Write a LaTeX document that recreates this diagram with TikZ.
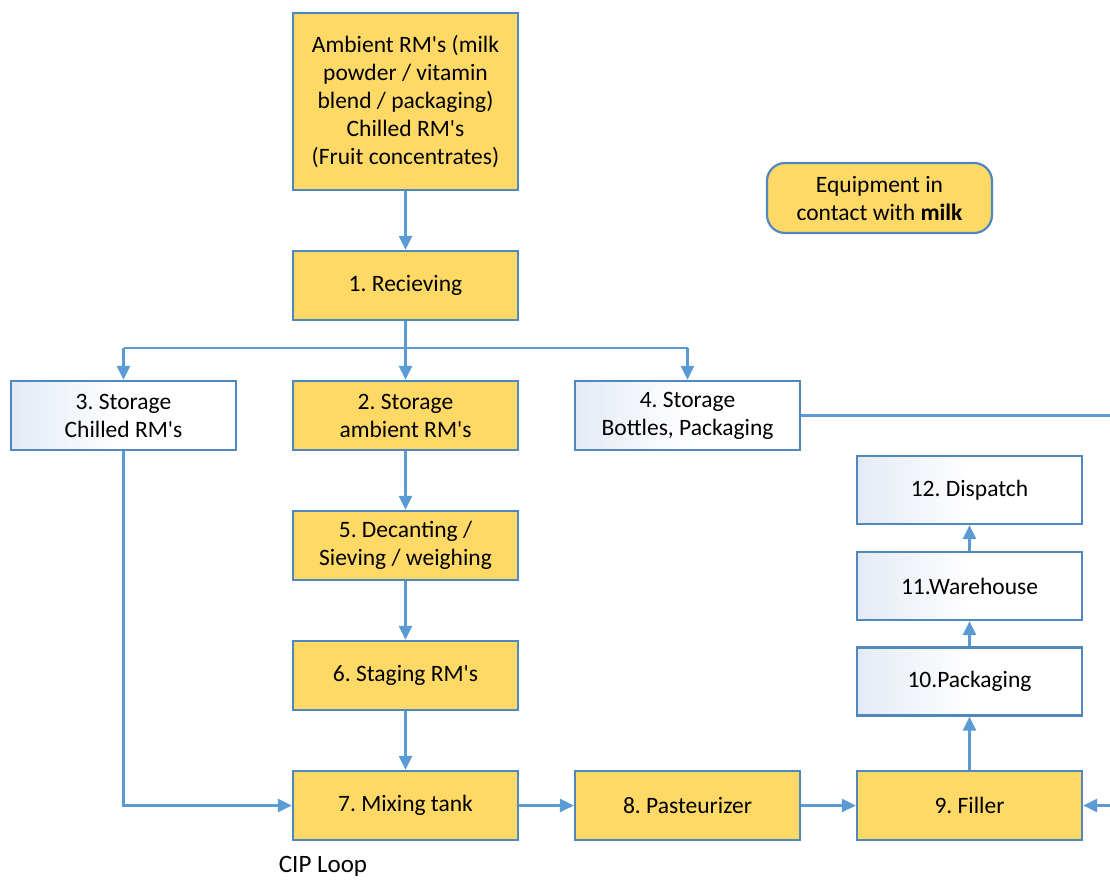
\documentclass[tikz,border=0pt]{standalone}
\usepackage{fontspec}
\setmainfont{Carlito}[Ligatures=TeXOff]
\usetikzlibrary{arrows.meta}
\frenchspacing
\definecolor{flowblue}{RGB}{91,155,213}
\definecolor{edgeblue}{RGB}{80,135,190}
\definecolor{boxyellow}{RGB}{255,217,102}
\definecolor{paleblue}{RGB}{228,234,245}
\tikzset{
  base/.style={draw=edgeblue, line width=2.2pt, minimum width=225pt, inner sep=2pt,
    align=center, font=\fontsize{23.5}{28}\selectfont, text=black},
  hot/.style={base, fill=boxyellow},
  cold/.style={base, left color=paleblue, right color=white, middle color=white!98!paleblue},
  legendbox/.style={base, fill=boxyellow, rounded corners=18pt, minimum height=70pt},
  flow/.style={draw=flowblue, line width=2.6pt, -{Triangle[width=13pt,length=14pt]}},
  plain/.style={draw=flowblue, line width=2.6pt}
}
\begin{document}
\begin{tikzpicture}[x=1pt,y=-1pt]
\useasboundingbox (0,0) rectangle (1110,879);

\node[hot, minimum height=177pt] (raw) at (405.5,101.5)
  {Ambient RM's (milk\\powder / vitamin\\blend / packaging)\\Chilled RM's\\(Fruit concentrates)};
\node[legendbox] (legend) at (879.5,198) {Equipment in\\contact with \textbf{milk}};

\node[hot, minimum height=69pt] (recv) at (405.5,285.5) {1. Recieving};
\node[cold, minimum height=69pt] (chilled) at (123.5,415.5) {3. Storage\\Chilled RM's};
\node[hot, minimum height=69pt] (ambient) at (405.5,415.5) {2. Storage\\ambient RM's};
\node[cold, minimum height=69pt] (bottles) at (687.5,415.5) {4. Storage\\Bottles, Packaging};
\node[hot, minimum height=69pt] (decant) at (405.5,545.5) {5. Decanting /\\Sieving / weighing};
\node[hot, minimum height=69pt] (staging) at (405.5,675.5) {6. Staging RM's};
\node[hot, minimum height=69pt] (mix) at (405.5,805.5) {7. Mixing tank};
\node[hot, minimum height=69pt] (past) at (687.5,805.5) {8. Pasteurizer};
\node[hot, minimum height=69pt] (fill) at (969.5,805.5) {9. Filler};
\node[cold, minimum height=68pt] (pack) at (969.5,681.5) {10.Packaging};
\node[cold, minimum height=68pt] (ware) at (969.5,586) {11.Warehouse};
\node[cold, minimum height=68pt] (disp) at (969.5,490) {12. Dispatch};

\node[font=\fontsize{25}{30}\selectfont, anchor=center] (cip) at (323,866) {CIP Loop};

% incoming material and distribution to the stores
\draw[flow] (raw) -- (recv);
\coordinate (split) at (405.5,348);
\draw[plain] (recv) -- (split);
\draw[plain] (split -| chilled) -- (split -| bottles);
\draw[flow] (split -| chilled) -- (chilled);
\draw[flow] (split) -- (ambient);
\draw[flow] (split -| bottles) -- (bottles);

% ambient line down to the mixing tank
\draw[flow] (ambient) -- (decant);
\draw[flow] (decant) -- (staging);
\draw[flow] (staging) -- (mix);
\draw[flow] (chilled.south) |- (mix.west);

% process line
\draw[flow] (mix) -- (past);
\draw[flow] (past) -- (fill);
\draw[flow] (fill) -- (pack);
\draw[flow] (pack) -- (ware);
\draw[flow] (ware) -- (disp);

% packaging supply on the right edge
\coordinate (outA) at (1115,415.5);
\coordinate (inB) at (1115,805.5);
\draw[plain] (bottles.east) -- (outA);
\draw[flow] (inB) -- (fill.east);
\end{tikzpicture}
\end{document}
